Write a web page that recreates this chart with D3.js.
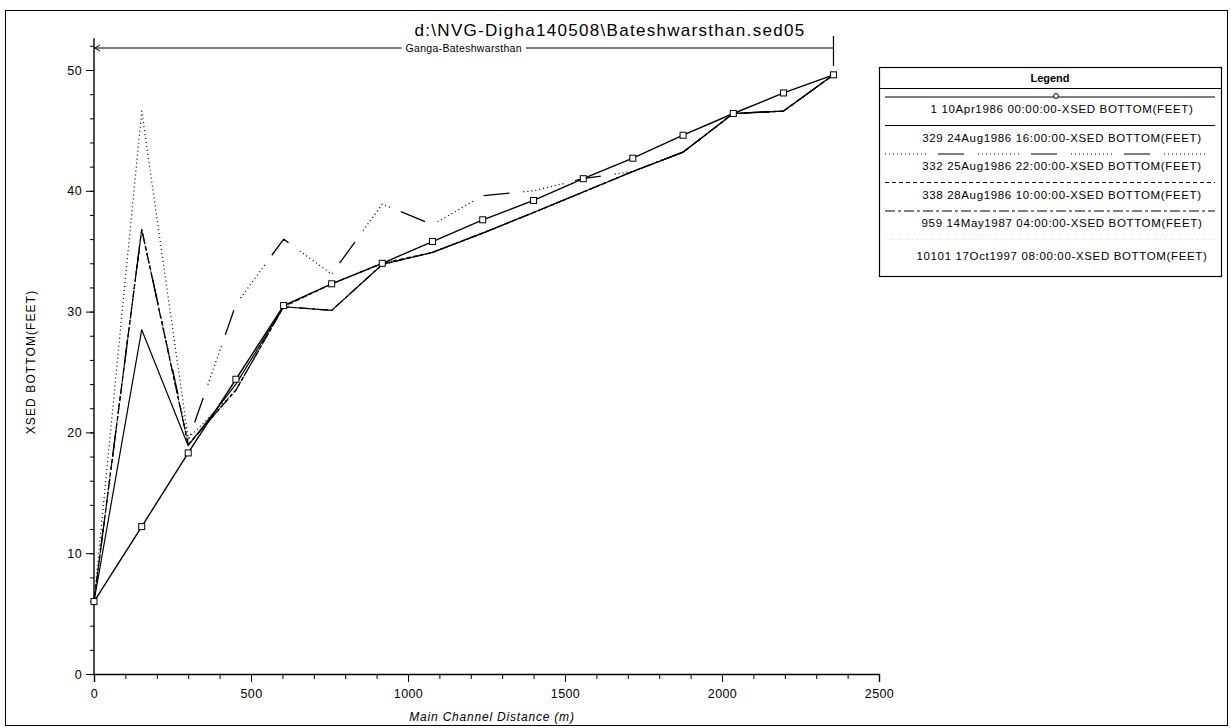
<!DOCTYPE html>
<html>
<head>
<meta charset="utf-8">
<script src="https://cdn.jsdelivr.net/npm/d3@7"></script>
<style>
  html, body { margin: 0; padding: 0; background: #fff; }
  svg { display: block; font-family: "Liberation Sans", Arial, sans-serif; }
</style>
</head>
<body>
<svg id="chart" width="1231" height="728"></svg>
<script>
// Section stations along the main channel (m)
const distances = [0, 152, 300, 452, 604, 757, 918, 1078, 1238, 1400, 1558, 1716, 1876, 2036, 2196, 2355];

// Bed elevation (feet) for each output time step
const bed_10Apr1986 = [6.0, 12.2, 18.3, 24.4, 30.5, 32.3, 34.0, 35.8, 37.6, 39.2, 41.0, 42.7, 44.6, 46.4, 48.1, 49.6];
const bed_24Aug1986 = [6.0, 28.5, 18.9, 24.0, 30.4, 30.1, 33.9, 34.9, 36.5, 38.2, 39.9, 41.6, 43.2, 46.4, 46.6, 49.6];
const bed_25Aug1986 = [6.0, 36.8, 19.3, 30.6, 36.0, 33.1, 38.9, 37.2, 39.6, 40.0, 41.0, 41.6, 43.2, 46.4, 46.6, 49.6];
const bed_28Aug1986 = [6.0, 36.8, 19.0, 23.5, 30.4, 32.3, 34.0, 34.9, 36.5, 38.2, 39.9, 41.6, 43.2, 46.4, 46.6, 49.6];
const bed_14May1987 = [6.0, 36.8, 19.0, 23.5, 30.4, 30.1, 33.9, 34.9, 36.5, 38.2, 39.9, 41.6, 43.2, 46.4, 46.6, 49.6];
const bed_17Oct1997 = [6.0, 46.6, 19.5, 23.5, 30.4, 32.3, 34.0, 34.9, 36.5, 38.2, 39.9, 41.6, 43.2, 46.4, 46.6, 49.6];

const legendLabels = [
  "1 10Apr1986 00:00:00-XSED BOTTOM(FEET)",
  "329 24Aug1986 16:00:00-XSED BOTTOM(FEET)",
  "332 25Aug1986 22:00:00-XSED BOTTOM(FEET)",
  "338 28Aug1986 10:00:00-XSED BOTTOM(FEET)",
  "959 14May1987 04:00:00-XSED BOTTOM(FEET)",
  "10101 17Oct1997 08:00:00-XSED BOTTOM(FEET)"
];

const xTickValues = [0, 500, 1000, 1500, 2000, 2500];
const yTickValues = [0, 10, 20, 30, 40, 50];

const titleText = "d:\\NVG-Digha140508\\Bateshwarsthan.sed05";
const reachName = "Ganga-Bateshwarsthan";
const xTitle = "Main Channel Distance (m)";
const yTitle = "XSED BOTTOM(FEET)";

// Line styles per series
const dotMix = "1,3,1,3,1,3,1,3,1,3,1,3,1,3,1,3,1,3,1,3,1,12,26,14";
const styles = [
  { dash: null, width: 1.4, markers: true },
  { dash: null, width: 1.2 },
  { dash: dotMix, width: 1.3 },
  { dash: "4,3", width: 1.2 },
  { dash: "10,3,3,3", width: 1.2 },
  { dash: "1,3", width: 1.2 }
];

const seriesValues = [bed_10Apr1986, bed_24Aug1986, bed_25Aug1986, bed_28Aug1986, bed_14May1987, bed_17Oct1997];

const svg = d3.select("#chart");

// outer frame
svg.append("rect")
  .attr("x", 5.5).attr("y", 10.5)
  .attr("width", 1222).attr("height", 715)
  .attr("fill", "none").attr("stroke", "#000").attr("stroke-width", 1);

const x = d3.scaleLinear().domain([0, 2500]).range([94, 879]);
const y = d3.scaleLinear().domain([0, 50]).range([674, 70]);

// axes
const gx = svg.append("g").attr("transform", `translate(0,${y(0)})`);
gx.call(d3.axisBottom(x).tickValues(d3.range(0, 2501, 100)).tickSize(5).tickFormat(""));
gx.call(g => g.select(".domain").remove());
svg.append("g").attr("transform", `translate(0,${y(0)})`)
  .call(d3.axisBottom(x).tickValues(xTickValues).tickSize(8).tickFormat(d3.format("d")))
  .call(g => g.select(".domain").attr("stroke-width", 1.4))
  .call(g => g.selectAll("text").attr("font-size", 12.5).attr("dy", "1.05em").attr("letter-spacing", 0.4).attr("font-family", "Liberation Sans, Arial, sans-serif"));

const yTop = 52.6;
const gyMinor = svg.append("g").attr("transform", `translate(${x(0)},0)`);
gyMinor.call(d3.axisLeft(y).tickValues(d3.range(0, 53, 2)).tickSize(4).tickFormat(""));
gyMinor.call(g => g.select(".domain").remove());
svg.append("g").attr("transform", `translate(${x(0)},0)`)
  .call(d3.axisLeft(y).tickValues(yTickValues).tickSize(8).tickFormat(d3.format("d")))
  .call(g => g.select(".domain").remove())
  .call(g => g.selectAll("text").attr("font-size", 12.5).attr("dx", "-1").attr("letter-spacing", 0.4).attr("font-family", "Liberation Sans, Arial, sans-serif"));
svg.append("line")
  .attr("x1", x(0)).attr("x2", x(0))
  .attr("y1", y(0)).attr("y2", y(yTop))
  .attr("stroke", "#000").attr("stroke-width", 1.4);

// reach bracket across the top of the profile
const bx0 = x(distances[0]), bx1 = x(distances[distances.length - 1]);
const by = 48;
svg.append("line").attr("x1", bx0).attr("x2", bx1).attr("y1", by).attr("y2", by)
  .attr("stroke", "#000").attr("stroke-width", 1.1);
svg.append("line").attr("x1", bx0).attr("x2", bx0).attr("y1", by - 10).attr("y2", y(yTop))
  .attr("stroke", "#000").attr("stroke-width", 1.2);
svg.append("line").attr("x1", bx1).attr("x2", bx1).attr("y1", by - 12).attr("y2", by + 18)
  .attr("stroke", "#000").attr("stroke-width", 1.2);
svg.append("path")
  .attr("d", `M${bx0 + 6},${by - 3}L${bx0 + 1},${by}L${bx0 + 6},${by + 3}`)
  .attr("fill", "none").attr("stroke", "#000").attr("stroke-width", 1);
const reachG = svg.append("g");
const reachLabel = reachG.append("text")
  .attr("x", (bx0 + bx1) / 2).attr("y", by + 3.5)
  .attr("text-anchor", "middle").attr("font-size", 10.5).attr("letter-spacing", 0.3)
  .text(reachName);
const rb = reachLabel.node().getBBox();
reachG.insert("rect", "text")
  .attr("x", rb.x - 4).attr("y", rb.y).attr("width", rb.width + 8).attr("height", rb.height)
  .attr("fill", "#fff");

// title
svg.append("text")
  .attr("x", 610).attr("y", 36)
  .attr("text-anchor", "middle").attr("font-size", 17).attr("letter-spacing", 1.3)
  .text(titleText);

// axis titles
svg.append("text")
  .attr("x", 492).attr("y", 721)
  .attr("text-anchor", "middle").attr("font-size", 12).attr("font-style", "italic").attr("letter-spacing", 0.8)
  .text(xTitle);
svg.append("text")
  .attr("transform", "translate(35,362) rotate(-90)")
  .attr("text-anchor", "middle").attr("font-size", 12).attr("letter-spacing", 1.1)
  .text(yTitle);

// profiles
const line = d3.line().x((d, i) => x(distances[i])).y(d => y(d));
const plot = svg.append("g");
for (let s = seriesValues.length - 1; s >= 0; s--) {
  const st = styles[s];
  plot.append("path")
    .datum(seriesValues[s])
    .attr("d", line)
    .attr("fill", "none")
    .attr("stroke", "#000")
    .attr("stroke-width", st.width)
    .attr("stroke-dasharray", st.dash)
    .attr("stroke-linejoin", "round");
}
plot.selectAll("rect.mk")
  .data(bed_10Apr1986)
  .join("rect")
  .attr("class", "mk")
  .attr("x", (d, i) => x(distances[i]) - 3)
  .attr("y", d => y(d) - 3)
  .attr("width", 6).attr("height", 6)
  .attr("fill", "#fff").attr("stroke", "#000").attr("stroke-width", 1);

// legend
const lg = { x: 879, y: 67, w: 342, head: 21, rowH: 28.5 };
const legend = svg.append("g");
legend.append("rect")
  .attr("x", lg.x + 0.5).attr("y", lg.y + 0.5)
  .attr("width", lg.w).attr("height", 209)
  .attr("fill", "#fff").attr("stroke", "#000").attr("stroke-width", 1.2);
legend.append("line")
  .attr("x1", lg.x).attr("x2", lg.x + lg.w)
  .attr("y1", lg.y + lg.head + 0.5).attr("y2", lg.y + lg.head + 0.5)
  .attr("stroke", "#000").attr("stroke-width", 1.2);
legend.append("text")
  .attr("x", lg.x + lg.w / 2).attr("y", lg.y + 14.5)
  .attr("text-anchor", "middle").attr("font-size", 11).attr("font-weight", "bold")
  .text("Legend");
legendLabels.forEach((label, i) => {
  const ly = lg.y + lg.head + 9 + i * lg.rowH;
  const st = styles[i];
  legend.append("line")
    .attr("x1", lg.x + 6).attr("x2", lg.x + lg.w - 6)
    .attr("y1", ly).attr("y2", ly)
    .attr("stroke", "#000")
    .attr("stroke-width", i === 5 ? 0.6 : 1.1)
    .attr("stroke-opacity", i === 5 ? 0.25 : 1)
    .attr("stroke-dasharray", st.dash);
  if (st.markers) {
    legend.append("circle")
      .attr("cx", lg.x + lg.w / 2 + 6).attr("cy", ly - 1)
      .attr("r", 2.4).attr("fill", "#fff").attr("stroke", "#000");
  }
  legend.append("text")
    .attr("x", lg.x + lg.w / 2 + 12).attr("y", ly + 16 + (i === 5 ? 4 : 0))
    .attr("text-anchor", "middle").attr("font-size", 11.5).attr("letter-spacing", 0.65)
    .text(label);
});
</script>
</body>
</html>
